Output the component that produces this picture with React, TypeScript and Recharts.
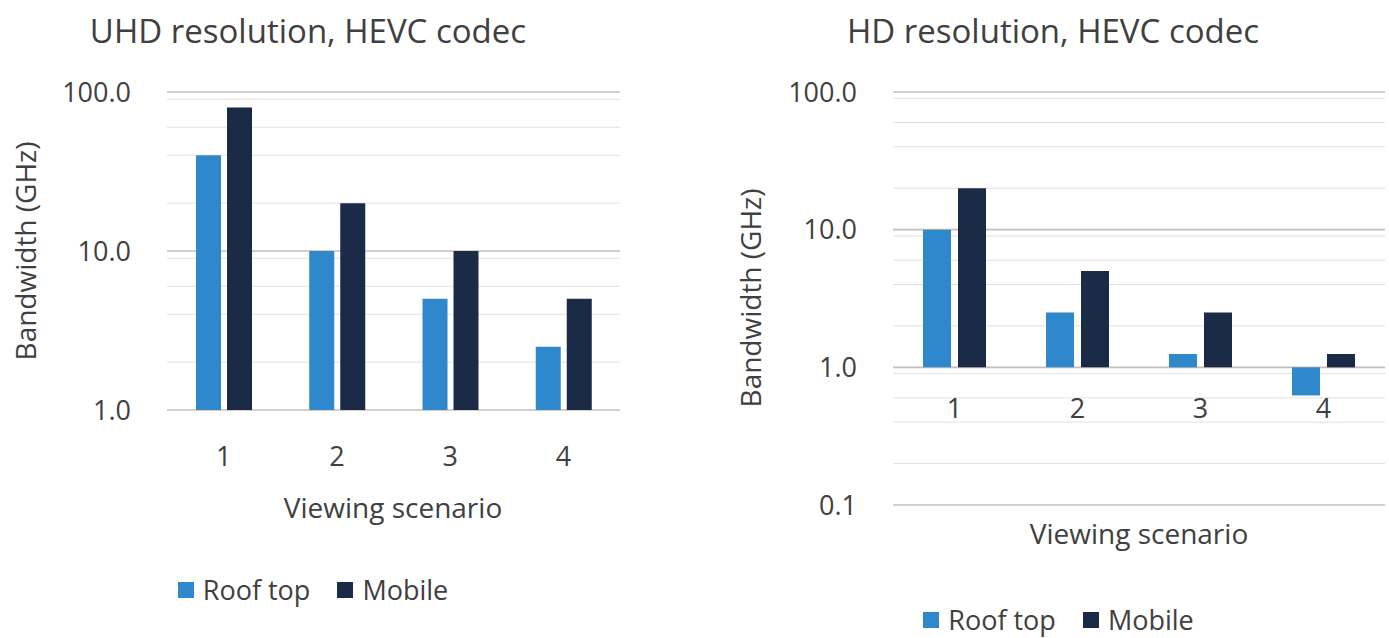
import { BarChart, Bar, XAxis, YAxis, CartesianGrid, Legend } from "recharts";

const scenarios = ["1", "2", "3", "4"];
const uhdRoofTop = [40, 10, 5, 2.5];
const uhdMobile = [80, 20, 10, 5];
const hdRoofTop = [10, 2.5, 1.25, 0.625];
const hdMobile = [20, 5, 2.5, 1.25];
const seriesNames = ["Roof top", "Mobile"];

const uhdTicks = [1, 10, 100];
const hdTicks = [0.1, 1, 10, 100];
const uhdMinor = [2, 3, 4, 5, 6, 7, 8, 9, 20, 30, 40, 50, 60, 70, 80, 90];
const hdMinor = [
  0.2, 0.3, 0.4, 0.5, 0.6, 0.7, 0.8, 0.9, 2, 3, 4, 5, 6, 7, 8, 9, 20, 30, 40, 50, 60, 70, 80, 90,
];

const uhdData = scenarios.map((s, i) => ({ scenario: s, roof: uhdRoofTop[i], mobile: uhdMobile[i] }));
const hdData = scenarios.map((s, i) => ({ scenario: s, roof: hdRoofTop[i], mobile: hdMobile[i] }));

const FONT = '"Open Sans", sans-serif';
const TEXT = "#404040";
const ROOF = "#2f88cc";
const MOBILE = "#1b2a47";
const MAJOR = "#c8beb6";
const MINOR = "#e4e0dc";

// bars hang off the 1.0 line, like the Excel original
const fromOne = (key: "roof" | "mobile") => (d: any) => [1, d[key]];

function LegendRow({ payload }: any) {
  const items = [...(payload || [])].sort(
    (a: any, b: any) => seriesNames.indexOf(a.value) - seriesNames.indexOf(b.value)
  );
  return (
    <div
      style={{
        display: "flex",
        justifyContent: "center",
        fontFamily: FONT,
        fontSize: 27,
        lineHeight: "38px",
        color: TEXT,
      }}
    >
      {items.map((p: any, i: number) => (
        <span key={i} style={{ display: "flex", alignItems: "center", marginLeft: i ? 27 : 0 }}>
          <span
            style={{ width: 16, height: 16, background: p.color, marginRight: 9, display: "inline-block" }}
          />
          {p.value}
        </span>
      ))}
    </div>
  );
}

const tickStyle = { fill: TEXT, fontSize: 27, fontFamily: FONT };

function Caption({ x, y, size, children }: any) {
  return (
    <div
      style={{
        position: "absolute",
        left: x,
        top: y,
        transform: "translate(-50%, -50%)",
        whiteSpace: "nowrap",
        fontFamily: FONT,
        fontSize: size,
        color: TEXT,
      }}
    >
      {children}
    </div>
  );
}

function VCaption({ x, y, children }: any) {
  return (
    <div
      style={{
        position: "absolute",
        left: x,
        top: y,
        transform: "translate(-50%, -50%) rotate(-90deg)",
        whiteSpace: "nowrap",
        fontFamily: FONT,
        fontSize: 28,
        color: TEXT,
      }}
    >
      {children}
    </div>
  );
}

export default function App() {
  return (
    <div
      style={{ position: "absolute", left: 0, top: 0, width: 1389, height: 638, background: "#fff", overflow: "hidden" }}
    >
      <div style={{ position: "absolute", left: 0, top: 0 }}>
        <BarChart
          width={640}
          height={638}
          data={uhdData}
          margin={{ top: 92, right: 20, bottom: 168, left: 0 }}
          barSize={25}
          barGap={6}
        >
          <CartesianGrid vertical={false} horizontalValues={uhdMinor} stroke={MINOR} strokeWidth={1} />
          <CartesianGrid vertical={false} horizontalValues={uhdTicks} stroke={MAJOR} strokeWidth={1.6} />
          <XAxis
            dataKey="scenario"
            height={60}
            axisLine={false}
            tickLine={false}
            tickSize={0}
            tickMargin={37}
            tick={tickStyle}
          />
          <YAxis
            scale="log"
            domain={[1, 100]}
            ticks={uhdTicks}
            allowDataOverflow
            width={167}
            axisLine={false}
            tickLine={false}
            tickSize={0}
            tickMargin={36}
            tick={tickStyle}
            tickFormatter={(v: number) => v.toFixed(1)}
          />
          <Bar dataKey={fromOne("roof")} name={seriesNames[0]} fill={ROOF} isAnimationActive={false} />
          <Bar dataKey={fromOne("mobile")} name={seriesNames[1]} fill={MOBILE} isAnimationActive={false} />
          <Legend
            content={<LegendRow />}
            wrapperStyle={{ top: 571, left: -7, width: 640, height: 0 }}
          />
        </BarChart>
      </div>

      <div style={{ position: "absolute", left: 700, top: 0 }}>
        <BarChart
          width={689}
          height={638}
          data={hdData}
          margin={{ top: 92, right: 4, bottom: 103, left: 0 }}
          barSize={28}
          barGap={7}
        >
          <CartesianGrid vertical={false} horizontalValues={hdMinor} stroke={MINOR} strokeWidth={1} />
          <CartesianGrid vertical={false} horizontalValues={hdTicks} stroke={MAJOR} strokeWidth={1.6} />
          <XAxis
            dataKey="scenario"
            height={30}
            axisLine={false}
            tickLine={false}
            tickSize={0}
            tickMargin={-106}
            tick={tickStyle}
          />
          <YAxis
            scale="log"
            domain={[0.1, 100]}
            ticks={hdTicks}
            allowDataOverflow
            width={193}
            axisLine={false}
            tickLine={false}
            tickSize={0}
            tickMargin={36}
            tick={tickStyle}
            tickFormatter={(v: number) => v.toFixed(1)}
          />
          <Bar dataKey={fromOne("roof")} name={seriesNames[0]} fill={ROOF} isAnimationActive={false} />
          <Bar dataKey={fromOne("mobile")} name={seriesNames[1]} fill={MOBILE} isAnimationActive={false} />
          <Legend
            content={<LegendRow />}
            wrapperStyle={{ top: 601, left: 14, width: 689, height: 0 }}
          />
        </BarChart>
      </div>

      <Caption x={308} y={30} size={33}>UHD resolution, HEVC codec</Caption>
      <Caption x={1053} y={30} size={33}>HD resolution, HEVC codec</Caption>
      <VCaption x={25} y={251}>Bandwidth (GHz)</VCaption>
      <VCaption x={750} y={298}>Bandwidth (GHz)</VCaption>
      <Caption x={393} y={507} size={28}>Viewing scenario</Caption>
      <Caption x={1139} y={533} size={28}>Viewing scenario</Caption>
    </div>
  );
}
